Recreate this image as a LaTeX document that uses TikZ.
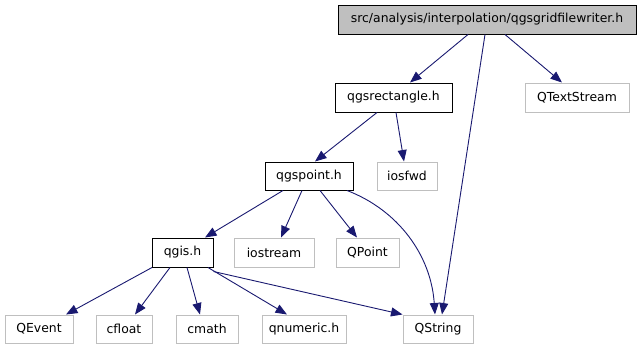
\documentclass[tikz,border=0pt]{standalone}
\usepackage{fontspec}
\setmainfont{DejaVu Sans}
\usetikzlibrary{arrows.meta}
\definecolor{edgeblue}{HTML}{191970}
\definecolor{leafgray}{HTML}{BFBFBF}
\tikzset{
  file/.style={draw=black, line width=1pt, inner sep=0pt, minimum height=29pt,
    font=\fontsize{12.4}{14}\selectfont},
  mainfile/.style={file, fill=leafgray},
  extfile/.style={file, draw=leafgray},
  dep/.style={draw=edgeblue, line width=0.9pt, -{Triangle[length=11.5pt,width=9pt]}, fill=none}
}
\begin{document}
\begin{tikzpicture}[x=1pt, y=-1pt]
  \useasboundingbox (0,0) rectangle (640,349);

  % header under analysis
  \node[mainfile, minimum width=298pt] (top) at (487,19.5) {src/analysis/interpolation/qgsgridfilewriter.h};

  % first level
  \node[file, minimum width=117pt] (rect) at (393.5,97.5) {qgsrectangle.h};
  \node[extfile, minimum width=104pt] (qts) at (577,97.5) {QTextStream};

  % second level
  \node[file, minimum width=88pt, minimum height=28pt] (point) at (309,176) {qgspoint.h};
  \node[extfile, minimum width=60pt, minimum height=28pt] (iosfwd) at (407,176) {iosfwd};

  % third level
  \node[file, minimum width=61pt] (qgis) at (182.5,252.5) {qgis.h};
  \node[extfile, minimum width=80pt] (iostream) at (274,252.5) {iostream};
  \node[extfile, minimum width=63pt] (qpoint) at (367.5,252.5) {QPoint};

  % bottom level
  \node[extfile, minimum width=68pt, minimum height=28pt] (qevent) at (39,329) {QEvent};
  \node[extfile, minimum width=56pt, minimum height=28pt] (cfloat) at (124,329) {cfloat};
  \node[extfile, minimum width=62pt, minimum height=28pt] (cmath) at (207,329) {cmath};
  \node[extfile, minimum width=84pt, minimum height=28pt] (qnumeric) at (304,329) {qnumeric.h};
  \node[extfile, minimum width=70pt, minimum height=28pt] (qstring) at (438,329) {QString};

  % include edges
  \draw[dep] ([xshift=-19pt]top.south) -- ([xshift=16.5pt]rect.north);
  \draw[dep] ([xshift=-2pt]top.south) -- ([xshift=4pt]qstring.north);
  \draw[dep] ([xshift=18pt]top.south) -- ([xshift=-15pt]qts.north);

  \draw[dep] ([xshift=-16.5pt]rect.south) -- ([xshift=6pt]point.north);
  \draw[dep] ([xshift=2.5pt]rect.south) -- ([xshift=-3pt]iosfwd.north);

  \draw[dep] ([xshift=-26pt]point.south) -- ([xshift=22.5pt]qgis.north);
  \draw[dep] ([xshift=-7pt]point.south) -- ([xshift=7pt]iostream.north);
  \draw[dep] ([xshift=11pt]point.south) -- ([xshift=-10.5pt]qpoint.north);
  \draw[dep] ([xshift=38pt]point.south) .. controls (398,210) and (431,255) .. ([xshift=-3pt]qstring.north);

  \draw[dep] ([xshift=-30.5pt]qgis.south) -- ([xshift=27pt]qevent.north);
  \draw[dep] ([xshift=-12.5pt]qgis.south) -- ([xshift=11pt]cfloat.north);
  \draw[dep] ([xshift=4.5pt]qgis.south) -- ([xshift=-7pt]cmath.north);
  \draw[dep] ([xshift=25.5pt]qgis.south) -- ([xshift=-17pt]qnumeric.north);
  \draw[dep] ([yshift=-4pt]qgis.south east) -- (qstring.north west);
\end{tikzpicture}
\end{document}
